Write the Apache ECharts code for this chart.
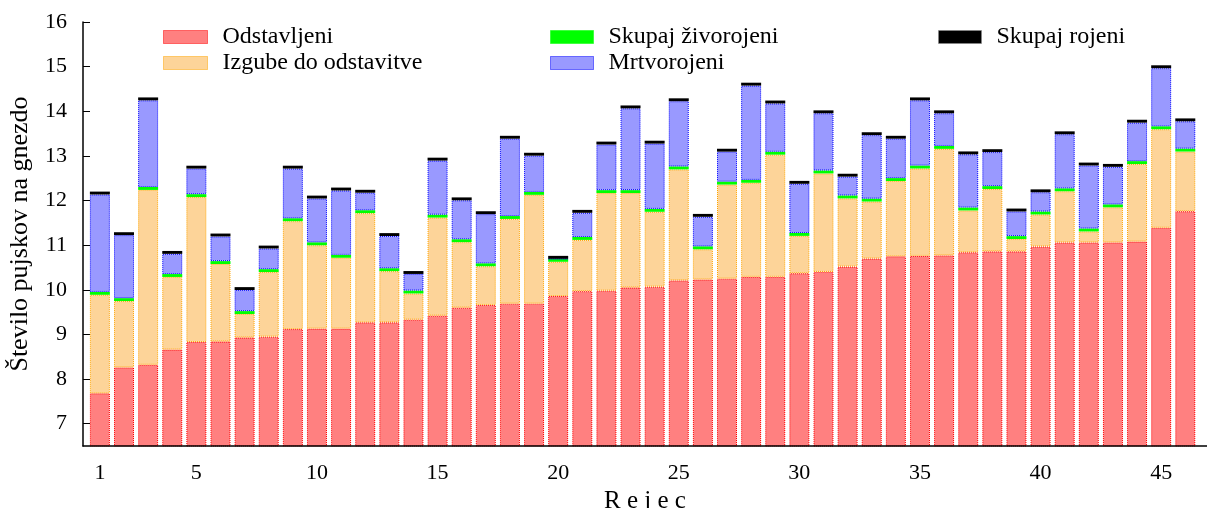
<!DOCTYPE html>
<html>
<head>
<meta charset="utf-8">
<script src="https://cdn.jsdelivr.net/npm/echarts@6/dist/echarts.min.js"></script>
<style>
  html, body { margin: 0; padding: 0; background: #fff; }
</style>
</head>
<body>
<div id="main" style="width: 1207px;height:508px;"></div>
<script>
// podatki, odčitani s slike (vrednost na gnezdo)
var reji = [1, 2, 3, 4, 5, 6, 7, 8, 9, 10, 11, 12, 13, 14, 15, 16, 17, 18, 19, 20, 21, 22, 23,
  24, 25, 26, 27, 28, 29, 30, 31, 32, 33, 34, 35, 36, 37, 38, 39, 40, 41, 42, 43, 44, 45, 46]

var odstavljeni = [7.68, 8.26, 8.32, 8.66, 8.83, 8.84, 8.93, 8.95, 9.12, 9.13, 9.13, 9.27,
  9.27, 9.33, 9.42, 9.60, 9.66, 9.69, 9.69, 9.86, 9.97, 9.98, 10.05, 10.07, 10.21, 10.23,
  10.25, 10.29, 10.29, 10.37, 10.40, 10.52, 10.70, 10.75, 10.76, 10.77, 10.84, 10.86, 10.86,
  10.97, 11.06, 11.06, 11.06, 11.08, 11.39, 11.76]

var zivorojeni = [9.92, 9.78, 12.27, 10.32, 12.11, 10.61, 9.49, 10.43, 11.57, 11.03, 10.75,
  11.75, 10.45, 9.95, 11.65, 11.10, 10.56, 11.62, 12.16, 10.66, 11.15, 12.20, 12.20, 11.78,
  12.73, 10.94, 12.39, 12.43, 13.06, 11.24, 12.64, 12.08, 12.01, 12.47, 12.75, 13.19, 11.81,
  12.29, 11.17, 11.72, 12.24, 11.34, 11.88, 12.85, 13.63, 13.13]

var skupajRojeni = [12.20, 11.29, 14.31, 10.87, 12.78, 11.26, 10.06, 10.99, 12.78, 12.11,
  12.29, 12.24, 11.27, 10.42, 12.96, 12.07, 11.76, 13.45, 13.07, 10.76, 11.79, 13.32, 14.13,
  13.34, 14.29, 11.70, 13.16, 14.64, 14.24, 12.44, 14.02, 12.60, 13.53, 13.45, 14.31, 14.02,
  13.10, 13.15, 11.82, 12.25, 13.55, 12.85, 12.82, 13.81, 15.03, 13.84]

var xOznake = [1, 5, 10, 15, 20, 25, 30, 35, 40, 45]
var yOznake = [7, 8, 9, 10, 11, 12, 13, 14, 15, 16]

// debelina tankega pasu (oznaka za skupaj živorojene / rojene)
var PAS = 0.065

var pisava = 'Liberation Serif'

// os x: od 0.3 do 46.9, stolpci na kategorijski osi v notranji mreži
var X_MIN = 0.3
var X_MAX = 46.9
var LEVO = 83
var SIRINA = 1207 - LEVO
var korak = SIRINA / (X_MAX - X_MIN)
var levoB = LEVO + (1 - X_MIN) * korak - korak / 2
var desnoB = 1207 - levoB - reji.length * korak

var myChart = echarts.init(document.getElementById('main'))

function stolpec(ime, barva, rob, podatki, debelinaRoba) {
  return {
    name: ime,
    type: 'bar',
    stack: 'skupaj',
    xAxisIndex: 1,
    yAxisIndex: 1,
    barWidth: 20,
    data: podatki,
    itemStyle: {
      color: barva,
      borderColor: rob,
      borderWidth: debelinaRoba,
      borderType: 'dotted'
    }
  }
}

// element legende s pikčastim robom
function oznaka(ime, barva, rob) {
  return {
    name: ime,
    itemStyle: {
      color: barva,
      borderColor: rob,
      borderWidth: 1,
      borderType: 'dotted'
    }
  }
}

var legendaBesedilo = {
  fontFamily: pisava,
  fontSize: 24,
  color: '#000',
  lineHeight: 24,
  padding: [0, 0, 0, 10]
}

var option = {
  animation: false,
  textStyle: { fontFamily: pisava },
  grid: [
    { left: LEVO, right: 0, top: 22, bottom: 62, outerBoundsMode: 'none' },
    { left: levoB, right: desnoB, top: 22, bottom: 62, outerBoundsMode: 'none' }
  ],
  legend: [
    {
      left: 158, top: 20, orient: 'vertical', itemWidth: 44, itemHeight: 13, itemGap: 2,
      icon: 'rect', textStyle: legendaBesedilo,
      data: [
        oznaka('Odstavljeni', '#FF8080', '#FF0000'),
        oznaka('Izgube do odstavitve', '#FDD499', '#FFA500')
      ]
    },
    {
      left: 545, top: 20, orient: 'vertical', itemWidth: 43, itemHeight: 13, itemGap: 2,
      icon: 'rect', textStyle: legendaBesedilo,
      data: [
        oznaka('Skupaj živorojeni', '#00FF00', '#00FF00'),
        oznaka('Mrtvorojeni', '#9999FF', '#0000FF')
      ]
    },
    {
      left: 933, top: 20, orient: 'vertical', itemWidth: 43, itemHeight: 13, itemGap: 2,
      icon: 'rect', textStyle: legendaBesedilo,
      data: [oznaka('Skupaj rojeni', '#000000', '#888888')]
    }
  ],
  xAxis: [
    {
      type: 'value',
      gridIndex: 0,
      min: X_MIN,
      max: X_MAX,
      name: 'R e j e c',
      nameLocation: 'middle',
      nameGap: 39,
      nameTextStyle: { fontFamily: pisava, fontSize: 25, color: '#000' },
      axisLine: { lineStyle: { color: '#000', width: 1.5 } },
      axisTick: { show: false },
      axisLabel: {
        customValues: xOznake,
        fontFamily: pisava,
        fontSize: 22,
        color: '#000',
        margin: 16
      },
      splitLine: { show: false },
      z: 5
    },
    {
      type: 'category',
      gridIndex: 1,
      data: reji,
      show: false
    }
  ],
  yAxis: [
    {
      type: 'value',
      gridIndex: 0,
      min: 6.5,
      max: 16,
      name: 'Število pujskov na gnezdo',
      nameLocation: 'middle',
      nameGap: 50,
      nameTextStyle: { fontFamily: pisava, fontSize: 26, color: '#000' },
      axisLine: { show: true, lineStyle: { color: '#000', width: 1.5 } },
      axisTick: {
        show: true,
        inside: true,
        length: 7,
        customValues: yOznake,
        lineStyle: { color: '#000', width: 1 }
      },
      axisLabel: {
        customValues: yOznake,
        fontFamily: pisava,
        fontSize: 22,
        color: '#000',
        margin: 16
      },
      splitLine: { show: false }
    },
    {
      type: 'value',
      gridIndex: 1,
      min: 6.5,
      max: 16,
      show: false
    }
  ],
  series: [
    stolpec('Odstavljeni', '#FF8080', '#FF0000', odstavljeni.map(function(v) {
      return v
    }), 1),
    stolpec('Izgube do odstavitve', '#FDD499', '#FFA500', zivorojeni.map(function(v, i) {
      return v - odstavljeni[i] - PAS / 2
    }), 1),
    stolpec('Skupaj živorojeni', '#00FF00', '#00FF00', reji.map(function() {
      return PAS
    }), 0),
    stolpec('Mrtvorojeni', '#9999FF', '#0000FF', skupajRojeni.map(function(v, i) {
      return v - zivorojeni[i] - PAS / 2 - PAS
    }), 1),
    stolpec('Skupaj rojeni', '#000000', '#000000', reji.map(function() {
      return PAS
    }), 0)
  ]
}

myChart.setOption(option)
</script>
</body>
</html>
